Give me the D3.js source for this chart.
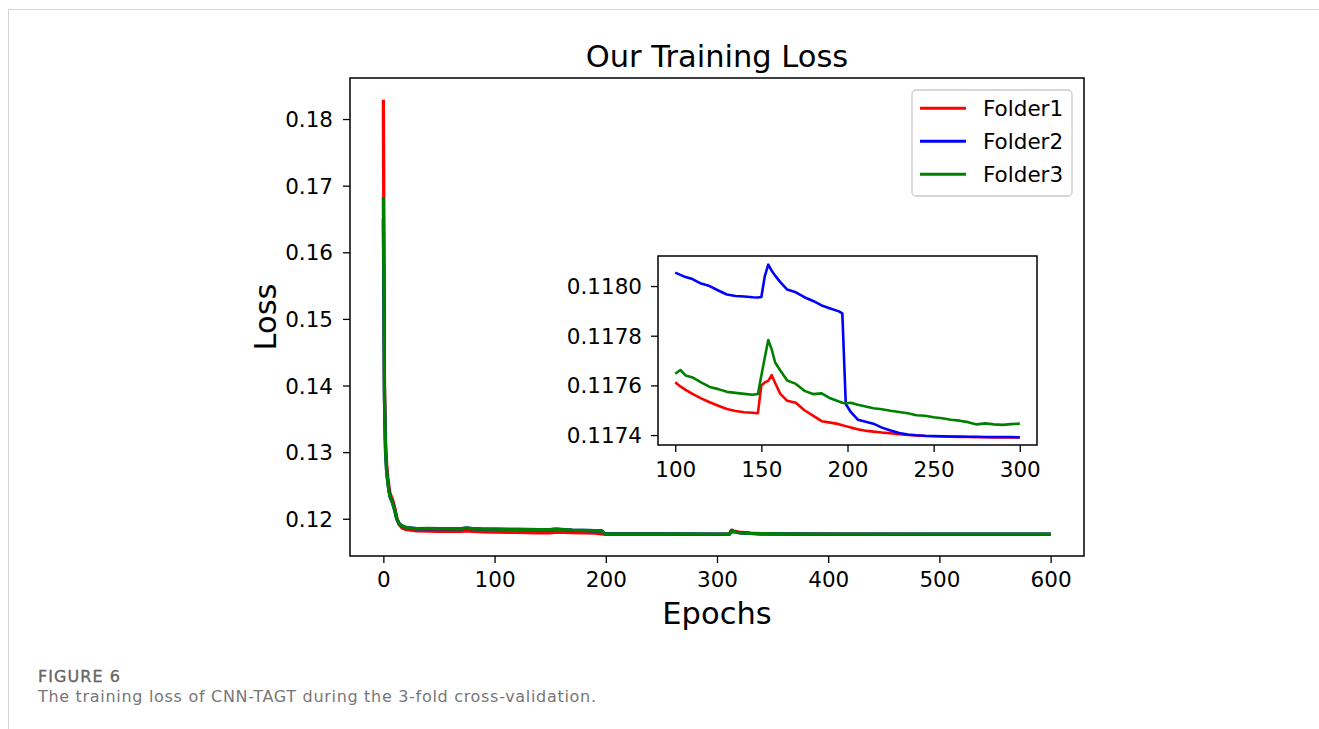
<!DOCTYPE html>
<html>
<head>
<meta charset="utf-8">
<script src="https://cdn.jsdelivr.net/npm/d3@7"></script>
<style>
  body { margin: 0; background: #fff; }
  svg text { font-family: "DejaVu Sans", sans-serif; }
</style>
</head>
<body>
<div id="chart"></div>
<script>
// ---- data ----
const folders = ["Folder1", "Folder2", "Folder3"]
const colors = ["#ff0000", "#0000ff", "#008000"]

const mainEpochs = [0,1,2,3,4,5,6,8,10,12,14,17,20,25,30,40,50,60,70,75,80,90,100,120,140,150,155,170,190,196,199,250,300,311,313,316,320,330,340,360,400,500,600]
const mainFolder1 = [0.1829,0.1400,0.1310,0.1280,0.1262,0.1248,0.1238,
    0.1230,0.1218,0.1202,0.1192,0.1186,0.1184,0.1183,0.1182,
    0.11815,0.1181,0.1181,0.1181,0.1182,0.1181,0.11805,0.1180,
    0.11795,0.1179,0.1179,0.11798,0.11792,0.11785,0.11775,0.11770,
    0.11768,0.11767,0.11767,0.1183,0.1181,0.1180,0.11785,0.11775,
    0.11770,0.11768,0.11767,0.11767]
const mainFolder2 = [0.1650,0.1380,0.1300,0.1270,0.1255,0.1242,0.1233,
    0.1225,0.1214,0.1200,0.1193,0.1189,0.1187,0.1186,0.1185,
    0.11850,0.11848,0.1185,0.1185,0.11860,0.1185,0.11845,0.11843,
    0.1184,0.11835,0.11835,0.11845,0.1183,0.1182,0.1182,0.11775,
    0.11772,0.1177,0.1177,0.1181,0.11805,0.1179,0.1178,0.11775,
    0.11772,0.1177,0.1177,0.1177]
const mainFolder3 = [0.1683,0.1380,0.1300,0.1270,0.1255,0.1242,0.1233,
    0.1225,0.1214,0.1200,0.1193,0.1189,0.1187,0.1186,0.1185,
    0.11855,0.11852,0.1185,0.1185,0.11862,0.1185,0.11845,0.11843,
    0.1184,0.11835,0.11835,0.11845,0.1183,0.1182,0.1182,0.11775,
    0.11772,0.1177,0.1177,0.1181,0.11805,0.1179,0.1178,0.11775,
    0.11772,0.1177,0.1177,0.1177]

const insetEpochs = [100,103,106,110,115,120,125,130,135,140,145,148,150,152,154,156,158,161,165,170,175,180,185,190,195,197,199,202,206,210,215,220,225,230,235,240,245,250,255,260,265,270,275,280,285,290,295,300]
const insetFolder1 = [0.117613,0.117596,0.117582,0.117566,0.117548,
    0.117532,0.117518,0.117505,0.117497,0.117492,
    0.117490,0.117488,0.117600,0.117612,0.117618,
    0.117641,0.117610,0.117566,0.117538,0.117530,
    0.117500,0.117478,0.117456,0.117450,0.117444,
    0.117440,0.117436,0.117430,0.117423,0.117418,
    0.117414,0.117410,0.117407,0.117403,0.117400,
    0.117398,0.117396,0.117395,0.117394,0.117393,
    0.117392,0.117392,0.117391,0.117391,0.117390,
    0.117390,0.117390,0.117390]
const insetFolder2 = [0.118054,0.118045,0.118036,0.118028,0.118010,
    0.118000,0.117982,0.117966,0.117960,0.117958,
    0.117955,0.117954,0.117956,0.118040,0.118086,
    0.118062,0.118042,0.118016,0.117986,0.117975,
    0.117955,0.117940,0.117922,0.117910,0.117898,
    0.117890,0.117525,0.117492,0.117462,0.117455,
    0.117446,0.117430,0.117418,0.117408,0.117402,
    0.117399,0.117397,0.117396,0.117395,0.117394,
    0.117394,0.117393,0.117393,0.117392,0.117392,
    0.117392,0.117392,0.117391]
const insetFolder3 = [0.117647,0.117662,0.117640,0.117632,0.117612,
    0.117594,0.117585,0.117574,0.117570,0.117566,
    0.117562,0.117565,0.117640,0.117712,0.117783,
    0.117745,0.117692,0.117660,0.117620,0.117606,
    0.117578,0.117565,0.117568,0.117548,0.117535,
    0.117530,0.117528,0.117530,0.117522,0.117516,
    0.117508,0.117504,0.117498,0.117493,0.117488,
    0.117480,0.117478,0.117472,0.117468,0.117462,
    0.117458,0.117452,0.117443,0.117447,0.117443,
    0.117441,0.117444,0.117446]

const mainXTicks = [0,100,200,300,400,500,600]
const mainYTicks = [0.12,0.13,0.14,0.15,0.16,0.17,0.18]
const insetXTicks = [100,150,200,250,300]
const insetYTicks = [0.1174,0.1176,0.1178,0.1180]

// ---- layout ----
const W = 1319, H = 729
const tickFont = 21.5, labelFont = 30.5
const svg = d3.select("#chart").append("svg").attr("width", W).attr("height", H)

// page frame lines
svg.append("line").attr("x1", 8).attr("x2", W).attr("y1", 9.5).attr("y2", 9.5)
    .attr("stroke", "#d4d4d4").attr("stroke-width", 1)
svg.append("line").attr("x1", 8.5).attr("x2", 8.5).attr("y1", 9).attr("y2", H)
    .attr("stroke", "#d4d4d4").attr("stroke-width", 1)

const main = {left: 350, right: 1084, top: 78, bottom: 556}
const xScale = d3.scaleLinear().domain([-30, 630]).range([main.left, main.right])
const yScale = d3.scaleLinear().domain([0.11441, 0.18616]).range([main.bottom, main.top])

function styleAxis(g) {
    g.select(".domain").remove()
    g.selectAll(".tick line").attr("stroke", "#000").attr("stroke-width", 1.3)
    g.selectAll(".tick text").attr("fill", "#000").attr("font-size", tickFont)
        .attr("font-family", "DejaVu Sans")
}

const xAxis = d3.axisBottom(xScale).tickValues(mainXTicks).tickSize(7).tickPadding(9).tickFormat(d3.format("d"))
const yAxis = d3.axisLeft(yScale).tickValues(mainYTicks).tickSize(7).tickPadding(10).tickFormat(d3.format(".2f"))

svg.append("g").attr("transform", `translate(0,${main.bottom})`).call(xAxis).call(styleAxis)
svg.append("g").attr("transform", `translate(${main.left},0)`).call(yAxis).call(styleAxis)
    .selectAll(".tick text").attr("dy", "0.35em")

// lines in main plot
const mainSeries = [mainFolder1, mainFolder2, mainFolder3]
const mainLine = d3.line().x(d => xScale(d[0])).y(d => yScale(d[1]))
mainSeries.forEach((vals, i) => {
    svg.append("path")
        .datum(mainEpochs.map((e, j) => [e, vals[j]]))
        .attr("d", mainLine)
        .attr("fill", "none")
        .attr("stroke", colors[i])
        .attr("stroke-width", 3.3)
        .attr("stroke-linejoin", "round")
})

svg.append("rect").attr("x", main.left).attr("y", main.top)
    .attr("width", main.right - main.left).attr("height", main.bottom - main.top)
    .attr("fill", "none").attr("stroke", "#000").attr("stroke-width", 1.5)

// title and labels
svg.append("text").attr("x", (main.left + main.right) / 2).attr("y", 66.5)
    .attr("text-anchor", "middle").attr("font-size", labelFont).text("Our Training Loss")
svg.append("text").attr("x", (main.left + main.right) / 2).attr("y", 624)
    .attr("text-anchor", "middle").attr("font-size", labelFont).text("Epochs")
svg.append("text")
    .attr("transform", `translate(276,${(main.top + main.bottom) / 2}) rotate(-90)`)
    .attr("text-anchor", "middle").attr("font-size", labelFont).text("Loss")

// legend
const leg = svg.append("g")
leg.append("rect").attr("x", 912).attr("y", 90).attr("width", 160).attr("height", 106)
    .attr("rx", 4).attr("fill", "#fff").attr("fill-opacity", 0.8)
    .attr("stroke", "#cccccc").attr("stroke-width", 1.3)
folders.forEach((f, i) => {
    const y = 108.3 + i * 33
    leg.append("line").attr("x1", 920).attr("x2", 966).attr("y1", y).attr("y2", y)
        .attr("stroke", colors[i]).attr("stroke-width", 3)
    leg.append("text").attr("x", 983).attr("y", y).attr("dy", "0.35em")
        .attr("font-size", tickFont).text(f)
})

// inset
const ins = {left: 658, right: 1037, top: 256, bottom: 445}
const ixScale = d3.scaleLinear().domain([90, 310]).range([ins.left, ins.right])
const iyScale = d3.scaleLinear().domain([0.11736, 0.118121]).range([ins.bottom, ins.top])

svg.append("rect").attr("x", ins.left).attr("y", ins.top)
    .attr("width", ins.right - ins.left).attr("height", ins.bottom - ins.top).attr("fill", "#fff")

svg.append("defs").append("clipPath").attr("id", "insclip")
    .append("rect").attr("x", ins.left).attr("y", ins.top)
    .attr("width", ins.right - ins.left).attr("height", ins.bottom - ins.top)

const insetSeries = [insetFolder1, insetFolder2, insetFolder3]
const insetLine = d3.line().x(d => ixScale(d[0])).y(d => iyScale(d[1]))
const insG = svg.append("g").attr("clip-path", "url(#insclip)")
insetSeries.forEach((vals, i) => {
    insG.append("path")
        .datum(insetEpochs.map((e, j) => [e, vals[j]]))
        .attr("d", insetLine)
        .attr("fill", "none")
        .attr("stroke", colors[i])
        .attr("stroke-width", 2.6)
        .attr("stroke-linejoin", "round")
})

const ixAxis = d3.axisBottom(ixScale).tickValues(insetXTicks).tickSize(7).tickPadding(10).tickFormat(d3.format("d"))
const iyAxis = d3.axisLeft(iyScale).tickValues(insetYTicks).tickSize(7).tickPadding(9).tickFormat(d3.format(".4f"))
svg.append("g").attr("transform", `translate(0,${ins.bottom})`).call(ixAxis).call(styleAxis)
svg.append("g").attr("transform", `translate(${ins.left},0)`).call(iyAxis).call(styleAxis)
    .selectAll(".tick text").attr("dy", "0.35em")

svg.append("rect").attr("x", ins.left).attr("y", ins.top)
    .attr("width", ins.right - ins.left).attr("height", ins.bottom - ins.top)
    .attr("fill", "none").attr("stroke", "#000").attr("stroke-width", 1.5)

// caption
const cap = svg.append("g").attr("class", "caption")
cap.append("text").attr("x", 38).attr("y", 681.5).attr("font-size", 16)
    .attr("textLength", 82).attr("lengthAdjust", "spacing")
    .attr("fill", "#666").attr("stroke", "#666").attr("stroke-width", 0.35).text("FIGURE 6")
cap.append("text").attr("x", 38).attr("y", 702).attr("font-size", 16)
    .attr("textLength", 558).attr("lengthAdjust", "spacing")
    .attr("fill", "#777").text("The training loss of CNN-TAGT during the 3-fold cross-validation.")
</script>
</body>
</html>
